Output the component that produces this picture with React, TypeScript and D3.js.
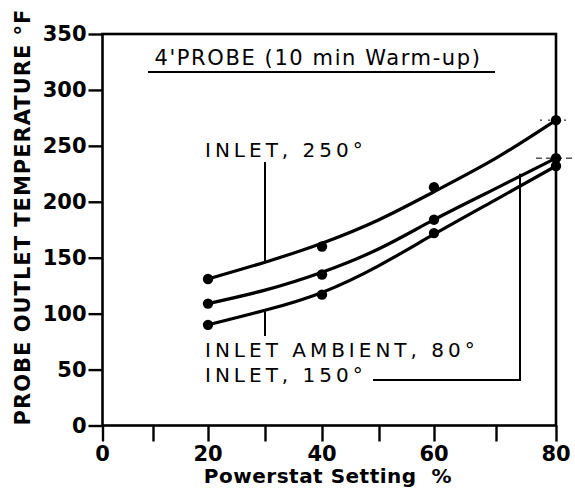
import React, { useEffect, useRef } from 'react';
import * as d3 from 'd3';

// Data
const powerstat = [20, 40, 60, 80];
const inlet250 = [131, 160, 213, 273];
const inlet150 = [109, 135, 184, 239];
const inletAmbient80 = [90, 117, 172, 232];

// hand-drawn fitted curves
const curveX = [20, 30, 40, 50, 60, 70, 80];
const fit250 = [131, 146, 163, 184, 209, 239, 273];
const fit150 = [109, 121, 137, 158, 184, 212, 239];
const fitAmbient80 = [90, 103, 119, 143, 171, 202, 232];

const xTicks = [0, 10, 20, 30, 40, 50, 60, 70, 80];
const xLabels = [0, 20, 40, 60, 80];
const yTicks = [0, 50, 100, 150, 200, 250, 300, 350];

const W = 575;
const H = 492;

export default function App() {
  const ref = useRef<SVGSVGElement>(null);

  useEffect(() => {
    if (!ref.current) return;
    const svg = d3.select(ref.current);
    svg.selectAll('*').remove();

    // the hand-drawn axis is not evenly spaced, so map each tick to where it sits
    const x = d3.scaleLinear()
      .domain(xTicks)
      .range([102.5, 153, 208, 265, 322, 379, 434, 496, 556]);
    const y = d3.scaleLinear().domain([0, 350]).range([425.5, 34]);

    const ink = '#000';
    const font = '"DejaVu Sans", sans-serif';

    // frame
    svg.append('rect')
      .attr('x', x(0)).attr('y', y(350))
      .attr('width', x(80) - x(0)).attr('height', y(0) - y(350))
      .attr('fill', 'none').attr('stroke', ink).attr('stroke-width', 2.6);

    // y axis
    const gy = svg.append('g')
      .attr('transform', `translate(${x(0)},0)`)
      .call(d3.axisLeft(y).tickValues(yTicks).tickSize(14).tickPadding(2).tickFormat(d3.format('d')));
    gy.select('.domain').remove();
    gy.selectAll('line').attr('stroke', ink).attr('stroke-width', 2.4);
    gy.selectAll('text')
      .attr('fill', ink)
      .style('font-family', font).style('font-weight', 'bold').style('font-size', '21px');

    // x axis
    const gx = svg.append('g')
      .attr('transform', `translate(0,${y(0)})`)
      .call(d3.axisBottom(x).tickValues(xTicks).tickSize(16).tickFormat(() => ''));
    gx.select('.domain').remove();
    gx.selectAll('.tick line').attr('stroke', ink).attr('stroke-width', 2.4);

    svg.append('g').selectAll('text')
      .data(xLabels)
      .enter().append('text')
      .attr('x', d => x(d)).attr('y', 461)
      .attr('text-anchor', 'middle')
      .style('font-family', font).style('font-weight', 'bold').style('font-size', '21px')
      .text(d => d);

    // axis titles
    svg.append('text')
      .attr('x', 328).attr('y', 483)
      .attr('text-anchor', 'middle')
      .style('font-family', font).style('font-weight', 'bold').style('font-size', '20px')
      .style('letter-spacing', '0.5px').style('white-space', 'pre')
      .text('Powerstat Setting  %');

    svg.append('text')
      .attr('transform', 'translate(30,217) rotate(-90)')
      .attr('text-anchor', 'middle')
      .style('font-family', font).style('font-weight', 'bold').style('font-size', '21px')
      .style('letter-spacing', '1px')
      .text('PROBE OUTLET TEMPERATURE °F');

    // title with underline
    svg.append('text')
      .attr('x', 318).attr('y', 65)
      .attr('text-anchor', 'middle')
      .style('font-family', font).style('font-size', '21px').style('letter-spacing', '1.6px')
      .text("4'PROBE (10 min Warm-up)");
    svg.append('line')
      .attr('x1', 148).attr('x2', 495).attr('y1', 72).attr('y2', 72)
      .attr('stroke', ink).attr('stroke-width', 2.2);

    // fitted curves
    const line = d3.line<number>()
      .x((_, i) => x(curveX[i]))
      .y(d => y(d))
      .curve(d3.curveNatural);

    [fit250, fit150, fitAmbient80].forEach(s => {
      svg.append('path')
        .attr('d', line(s) || '')
        .attr('fill', 'none').attr('stroke', ink).attr('stroke-width', 3.2)
        .attr('stroke-linecap', 'round');
    });

    // measured points
    [inlet250, inlet150, inletAmbient80].forEach(s => {
      svg.append('g').selectAll('circle')
        .data(s)
        .enter().append('circle')
        .attr('cx', (_, i) => x(powerstat[i]))
        .attr('cy', d => y(d))
        .attr('r', 5.2)
        .attr('fill', ink);
    });

    // annotations
    const label = (txt: string, ty: number) =>
      svg.append('text')
        .attr('x', 205).attr('y', ty)
        .style('font-family', font).style('font-size', '20px').style('letter-spacing', '4px')
        .text(txt);

    label('INLET, 250°', 157);
    label('INLET AMBIENT, 80°', 357);
    label('INLET, 150°', 382);

    const lead = (pts: [number, number][]) =>
      svg.append('path')
        .attr('d', d3.line()(pts) || '')
        .attr('fill', 'none').attr('stroke', ink).attr('stroke-width', 2);

    lead([[x(30), 162], [x(30), y(fit250[1])]]);
    lead([[x(30), y(fitAmbient80[1])], [x(30), 336]]);
    lead([[373, 380], [x(74), 380], [x(74), y(225)]]);

    // small reference marks at the right edge
    svg.append('line')
      .attr('x1', x(80) - 20).attr('x2', x(80) + 18)
      .attr('y1', y(inlet150[3])).attr('y2', y(inlet150[3]))
      .attr('stroke', ink).attr('stroke-width', 1).attr('stroke-dasharray', '6,4');
    svg.append('line')
      .attr('x1', x(80) - 16).attr('x2', x(80) + 12)
      .attr('y1', y(inlet250[3])).attr('y2', y(inlet250[3]))
      .attr('stroke', ink).attr('stroke-width', 1).attr('stroke-dasharray', '2,6');
  }, []);

  return (
    <svg
      ref={ref}
      width={W}
      height={H}
      style={{ position: 'absolute', left: 0, top: 0, background: '#fff' }}
    />
  );
}
